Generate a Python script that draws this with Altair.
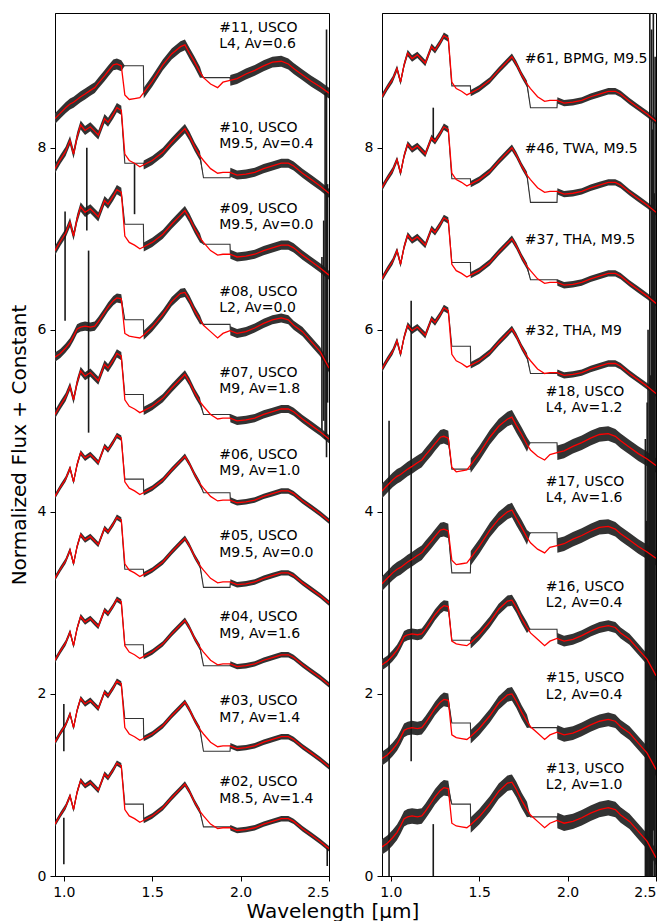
import altair as alt
import pandas as pd

# ---------------- data ----------------
WL = [0.95, 0.98, 1.01, 1.035, 1.055, 1.075, 1.095, 1.12, 1.15, 1.175, 1.195,
      1.23, 1.25, 1.28, 1.30, 1.325, 1.345, 1.37, 1.40, 1.43, 1.45, 1.50, 1.56,
      1.61, 1.66, 1.685, 1.71, 1.74, 1.77, 1.79, 1.83, 1.87, 1.90, 1.94, 1.98,
      2.03, 2.08, 2.13, 2.18, 2.23, 2.27, 2.30, 2.35, 2.40, 2.45, 2.50]

# model templates (normalised at the H-band peak)
TPL_M = [0.56, 0.66, 0.75, 0.87, 0.72, 0.91, 1.04, 0.98, 1.02, 0.97, 0.93,
         1.11, 1.07, 1.16, 1.23, 1.20, 0.72, 0.65, 0.62, 0.58, 0.60, 0.65, 0.74,
         0.85, 0.95, 1.00, 0.92, 0.80, 0.70, 0.65, 0.56, 0.51, 0.52, 0.52, 0.49,
         0.50, 0.52, 0.56, 0.59, 0.62, 0.62, 0.59, 0.51, 0.44, 0.37, 0.29]
TPL_L2 = [0.29, 0.33, 0.39, 0.45, 0.52, 0.60, 0.62, 0.63, 0.62, 0.63, 0.68,
          0.78, 0.84, 0.91, 0.94, 0.93, 0.55, 0.52, 0.51, 0.50, 0.53, 0.62, 0.76,
          0.90, 0.99, 1.00, 0.92, 0.80, 0.70, 0.64, 0.57, 0.50, 0.55, 0.58, 0.55,
          0.57, 0.61, 0.66, 0.70, 0.72, 0.70, 0.64, 0.57, 0.46, 0.35, 0.17]
TPL_L4 = [0.21, 0.27, 0.33, 0.37, 0.39, 0.42, 0.45, 0.48, 0.52, 0.55, 0.60,
          0.68, 0.73, 0.80, 0.81, 0.79, 0.47, 0.42, 0.43, 0.44, 0.49, 0.62, 0.80,
          0.92, 1.00, 1.02, 0.93, 0.83, 0.72, 0.66, 0.59, 0.55, 0.61, 0.63, 0.65,
          0.70, 0.74, 0.79, 0.83, 0.84, 0.81, 0.76, 0.69, 0.62, 0.56, 0.49]
TEMPLATES = {"M": TPL_M, "L2": TPL_L2, "L4": TPL_L4}

LEFT_NAME = ["#02, USCO", "#03, USCO", "#04, USCO", "#05, USCO", "#06, USCO",
             "#07, USCO", "#08, USCO", "#09, USCO", "#10, USCO", "#11, USCO"]
LEFT_INFO = ["M8.5, Av=1.4", "M7, Av=1.4", "M9, Av=1.6", "M9.5, Av=0.0",
             "M9, Av=1.0", "M9, Av=1.8", "L2, Av=0.0", "M9.5, Av=0.0",
             "M9.5, Av=0.4", "L4, Av=0.6"]
LEFT_TYPE = ["M", "M", "M", "M", "M", "M", "L2", "M", "M", "L4"]
LEFT_OFFSET = [0.01, 0.91, 1.81, 2.71, 3.61, 4.51, 5.41, 6.31, 7.21, 8.11]
LEFT_GAP1 = [0.78, 0.82, 0.73, 0.66, 0.75, 0.78, 0.70, 0.85, 0.62, 0.79]
LEFT_GAP2 = [0.53, 0.46, 0.50, 0.46, 0.60, 0.56, 0.65, 0.63, 0.46, 0.66]
LEFT_NOISE = [0.03, 0.03, 0.03, 0.03, 0.03, 0.045, 0.05, 0.05, 0.05, 0.06]
LEFT_LABEL_Y = [1.03, 1.92, 2.84, 3.73, 4.63, 5.53, 6.42, 7.33, 8.22, 9.32]

RIGHT_NAME = ["#13, USCO", "#15, USCO", "#16, USCO", "#17, USCO", "#18, USCO",
              "#32, THA, M9", "#37, THA, M9.5", "#46, TWA, M9.5", "#61, BPMG, M9.5"]
RIGHT_INFO = ["L2, Av=1.0", "L2, Av=0.4", "L2, Av=0.4", "L4, Av=1.6",
              "L4, Av=1.2", "", "", "", ""]
RIGHT_TYPE = ["L2", "L2", "L2", "L4", "L4", "M", "M", "M", "M"]
RIGHT_OFFSET = [0.03, 1.0, 2.03, 3.0, 4.02, 5.01, 6.0, 7.0, 8.0]
RIGHT_GAP1 = [0.76, 0.68, 0.56, 0.33, 0.45, 0.81, 0.74, 0.66, 0.68]
RIGHT_GAP2 = [0.62, 0.63, 0.68, 0.77, 0.74, 0.51, 0.55, 0.40, 0.44]
RIGHT_NOISE = [0.085, 0.075, 0.06, 0.08, 0.08, 0.035, 0.035, 0.035, 0.035]
RIGHT_LABEL_Y = [1.18, 2.17, 3.18, 4.33, 5.32, 5.99, 6.99, 7.99, 8.97]

# vertical spikes in the data (panel, wavelength, low, high)
SPIKE_PANEL = ["L"] * 12 + ["R"] * 16
SPIKE_WL = [1.0, 1.0, 2.49, 1.14, 1.007, 1.13, 1.40, 2.46, 2.47, 2.478, 2.486, 2.492,
            1.115, 0.99, 1.24, 1.24, 2.44, 2.445, 2.45, 2.455, 2.46, 2.465, 2.47,
            2.475, 2.48, 2.485, 2.49, 2.495]
SPIKE_LO = [0.13, 1.37, 0.11, 4.87, 6.10, 7.09, 7.27, 4.9, 5.0, 4.8, 4.6, 5.2,
            1.26, 0.0, 0.0, 8.08, 0.0, 0.0, 0.0, 0.0, 0.0, 0.0, 0.0,
            0.0, 0.0, 0.5, 0.0, 0.0]
SPIKE_HI = [0.64, 1.89, 0.31, 6.87, 7.30, 8.00, 7.82, 6.8, 7.2, 8.6, 9.3, 7.6,
            6.32, 5.0, 0.57, 8.44, 4.8, 3.9, 5.2, 6.0, 4.6, 9.48, 5.5,
            9.3, 8.2, 9.48, 7.5, 9.0]

FONT = "DejaVu Sans"
X_DOM = [0.95, 2.5]
Y_DOM = [0, 9.48]


def build(names, types, offsets, gap1, gap2, noise):
    model_rows, data_rows = [], []
    for s, name in enumerate(names):
        tpl = TEMPLATES[types[s]]
        off = offsets[s]
        k = 0
        for w, v in zip(WL, tpl):
            m = v + off
            model_rows.append({"spec": name, "wl": w, "flux": m})
            if 1.345 <= w <= 1.45:
                d, n = gap1[s] + off, 0.0
            elif 1.79 <= w <= 1.94:
                d, n = gap2[s] + off, 0.0
            else:
                d, n = m, noise[s]
            data_rows.append({"spec": name, "idx": k, "wl": w, "flux": d,
                              "lo": d - n, "hi": d + n})
            k += 1
            if w in (1.45, 1.94):
                data_rows.append({"spec": name, "idx": k, "wl": w + 0.002,
                                  "flux": m, "lo": m - noise[s], "hi": m + noise[s]})
                k += 1
    return pd.DataFrame(model_rows), pd.DataFrame(data_rows)


def panel(names, infos, types, offsets, gap1, gap2, noise, label_y, tag, ytitle):
    model_df, data_df = build(names, types, offsets, gap1, gap2, noise)
    spikes = pd.DataFrame({"panel": SPIKE_PANEL, "wl": SPIKE_WL,
                           "lo": SPIKE_LO, "hi": SPIKE_HI})
    spikes = spikes[spikes["panel"] == tag]

    lab1, lab2 = [], []
    for n, info, y in zip(names, infos, label_y):
        if tag == "L":
            x = 1.879
        else:
            x = 1.877 if info else 1.758
        lab1.append({"x": x, "y": y, "t": n})
        if info:
            lab2.append({"x": x, "y": y - 0.18, "t": info})
    lab_df = pd.DataFrame(lab1 + lab2)

    xs = alt.Scale(domain=X_DOM, nice=False, zero=False)
    ys = alt.Scale(domain=Y_DOM, nice=False, zero=False)
    xax = alt.Axis(values=[1.0, 1.5, 2.0, 2.5], format=".1f", title=None)
    yax = alt.Axis(values=[0, 2, 4, 6, 8], format="d", title=ytitle if ytitle else None)

    band = alt.Chart(data_df).mark_area(color="#333333", clip=True).encode(
        x=alt.X("wl:Q", scale=xs, axis=xax),
        y=alt.Y("lo:Q", scale=ys, axis=yax),
        y2="hi:Q",
        detail="spec:N",
    )
    dline = alt.Chart(data_df).mark_line(color="#333333", strokeWidth=1.1, clip=True).encode(
        x=alt.X("wl:Q", scale=xs),
        y=alt.Y("flux:Q", scale=ys),
        detail="spec:N",
        order=alt.Order("idx:Q"),
    )
    spk = alt.Chart(spikes).mark_rule(color="#1a1a1a", strokeWidth=1.6, clip=True).encode(
        x=alt.X("wl:Q", scale=xs),
        y=alt.Y("lo:Q", scale=ys),
        y2="hi:Q",
    )
    mline = alt.Chart(model_df).mark_line(color="#ff0000", strokeWidth=1.3, clip=True).encode(
        x=alt.X("wl:Q", scale=xs),
        y=alt.Y("flux:Q", scale=ys),
        detail="spec:N",
    )
    txt = alt.Chart(lab_df).mark_text(align="left", baseline="middle", font=FONT,
                                      fontSize=14, color="black").encode(
        x=alt.X("x:Q", scale=xs),
        y=alt.Y("y:Q", scale=ys),
        text="t:N",
    )
    return alt.layer(band, dline, spk, mline, txt).properties(width=274, height=863)


left = panel(LEFT_NAME, LEFT_INFO, LEFT_TYPE, LEFT_OFFSET, LEFT_GAP1, LEFT_GAP2,
             LEFT_NOISE, LEFT_LABEL_Y, "L", "Normalized Flux + Constant")
right = panel(RIGHT_NAME, RIGHT_INFO, RIGHT_TYPE, RIGHT_OFFSET, RIGHT_GAP1, RIGHT_GAP2,
              RIGHT_NOISE, RIGHT_LABEL_Y, "R", None)

chart = alt.hconcat(left, right, spacing=33).properties(
    title=alt.TitleParams("Wavelength [μm]", orient="bottom", anchor="middle",
                          font=FONT, fontSize=20, fontWeight="normal",
                          color="black", offset=2),
    padding={"left": 8, "top": 12, "right": 10, "bottom": 5},
).configure_view(
    stroke="black", strokeWidth=1
).configure_axis(
    grid=False, domainColor="black", domainWidth=1, tickColor="black",
    tickWidth=1, tickSize=5, labelPadding=4, labelFont=FONT, labelFontSize=14,
    labelColor="black", titleFont=FONT, titleFontSize=20, titleFontWeight="normal",
    titleColor="black", titlePadding=8,
)

chart.save("out.html", embed_options={"renderer": "svg", "actions": False})
